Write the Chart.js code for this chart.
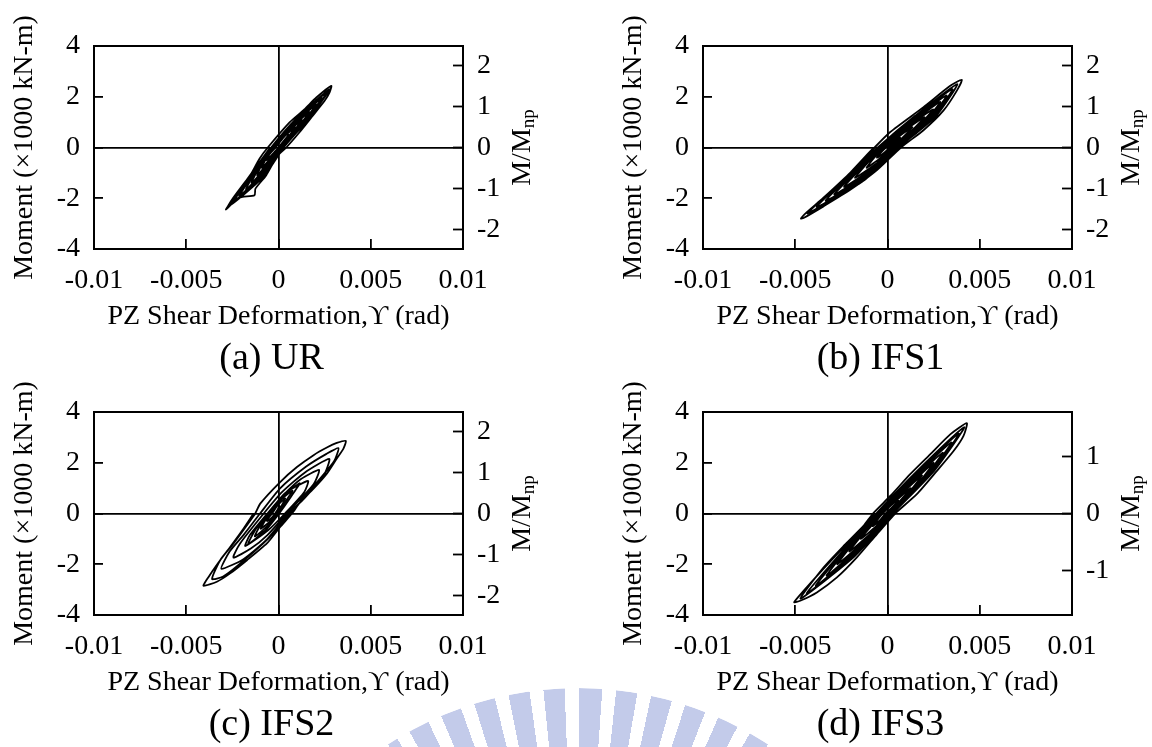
<!DOCTYPE html>
<html>
<head>
<meta charset="utf-8">
<script src="https://cdn.jsdelivr.net/npm/chart.js@4.4.1/dist/chart.umd.min.js"></script>
<style>
  html, body { margin: 0; padding: 0; background: #fff; }
  body { width: 1152px; height: 747px; position: relative; overflow: hidden;
         font-family: 'Liberation Serif', 'Times New Roman', serif; }
  .panel { position: absolute; width: 543px; height: 381px; }
  .panel canvas { position: absolute; left: 0; top: 0; }
  .cap { position: absolute; left: 0; width: 543px; top: 337px; text-align: center;
         font-size: 38px; line-height: 38px; color: #000; }
  /* faint striped logo watermark at the bottom */
  .mark { position: absolute; left: 229px; top: 688px; width: 698px; height: 698px; border-radius: 50%;
          background:
            conic-gradient(from 33deg, #fff 0deg 294deg, transparent 294deg 360deg),
            repeating-conic-gradient(from 0.5deg, #c3cbea 0deg 3.5deg, transparent 3.5deg 5.8deg);
          -webkit-mask-image: radial-gradient(circle at 50% 50%, transparent 0 274px, #000 275px);
          mask-image: radial-gradient(circle at 50% 50%, transparent 0 274px, #000 275px); }
</style>
</head>
<body>
<div class="mark"></div>
<div class="panel" style="left:0;top:0"><canvas id="cUR" width="543" height="381"></canvas><div class="cap">(a) UR</div></div>
<div class="panel" style="left:609px;top:0"><canvas id="cIFS1" width="543" height="381"></canvas><div class="cap">(b) IFS1</div></div>
<div class="panel" style="left:0;top:366px"><canvas id="cIFS2" width="543" height="381"></canvas><div class="cap">(c) IFS2</div></div>
<div class="panel" style="left:609px;top:366px"><canvas id="cIFS3" width="543" height="381"></canvas><div class="cap">(d) IFS3</div></div>
<script>
// axis ticks
const gammaTicks = [-0.01, -0.005, 0, 0.005, 0.01];
const momentTicks = [-4, -2, 0, 2, 4];
const ratioTicksABC = [-2, -1, 0, 1, 2];
const ratioTicksD = [-1, 0, 1];

// Mnp (x1000 kN-m) used for the right-hand M/Mnp axis
const mnpABC = 1.61;
const mnpD = 2.25;

// shear deformation in 1e-3 rad, moment in 1000 kN-m, traced cycle by cycle
const urGamma = [0,
  0.55, 0.30, 0.0, -0.31, -0.66, -0.47, -0.16, 0.28,
  0.9, 0.52, 0.04, -0.41, -0.9, -0.65, -0.2, 0.46,
  1.26, 0.74, 0.08, -0.51, -1.15, -0.83, -0.24, 0.59,
  1.68, 0.95, 0.12, -0.59, -1.46, -0.99, -0.28, 0.73,
  2.05, 1.18, 0.17, -0.64, -1.76, -1.14, -0.33, 0.82,
  2.35, 1.35, 0.2, -0.7, -2.12, -1.26, -0.36, 0.88,
  2.6, 1.52, 0.24, -0.75, -2.41, -1.39, -0.4, 0.98,
  2.77, 1.66, 0.28, -0.8, -2.68,
  -1.58, -1.03, -0.58, 0.6, 1.4, 2.05, 2.86,
  2.77, 2.5, 1.8, 1.14, 0.42, -0.05, -0.67, -1.25, -1.3, -1.95, -2.3, -2.85,
  -2.48, -1.7, -1.0, -0.45];
const urMoment = [0,
  0.5, 0.25, 0, -0.25, -0.5, -0.25, 0, 0.4,
  0.8, 0.4, 0, -0.4, -0.8, -0.4, 0, 0.55,
  1.1, 0.55, 0, -0.55, -1.1, -0.55, 0, 0.7,
  1.4, 0.7, 0, -0.7, -1.4, -0.7, 0, 0.85,
  1.7, 0.85, 0, -0.825, -1.65, -0.825, 0, 0.975,
  1.95, 0.975, 0, -0.95, -1.9, -0.95, 0, 1.075,
  2.15, 1.075, 0, -1.05, -2.1, -1.05, 0, 1.15,
  2.3, 1.15, 0, -1.15, -2.3,
  -1.16, -0.44, 0, 0.99, 1.5, 1.97, 2.43,
  2.17, 1.84, 1.2, 0.6, 0, -0.32, -1.1, -1.62, -1.88, -1.95, -2.05, -2.45,
  -2.01, -1.25, -0.55, 0];

const ifs1Gamma = [0,
  0.68, 0.43, 0.115, -0.16, -0.57, -0.36, -0.085, 0.55,
  1.35, 0.83, 0.195, -0.36, -1.13, -0.72, -0.165, 0.79,
  2.0, 1.23, 0.275, -0.55, -1.76, -1.07, -0.245, 0.965,
  2.47, 1.555, 0.345, -0.725, -2.35, -1.385, -0.315, 1.145,
  2.86, 1.875, 0.415, -0.87, -2.88, -1.67, -0.385, 1.28,
  3.2, 2.15, 0.485, -0.995, -3.35, -1.935, -0.455, 1.41,
  3.52, 2.42, 0.555, -1.14, -3.84, -2.22, -0.525, 1.5,
  3.78, 2.64, 0.615, -1.285, -4.33,
  -3.47, -2.02, -0.7, 0.15, 1.95, 3.4, 4.03,
  3.76, 3.04, 1.95, 0.73, -0.57, -2.02, -3.47, -4.55, -4.69,
  -4.37, -3.5, -2.1, -0.75];
const ifs1Moment = [0,
  0.4, 0.2, 0, -0.2, -0.4, -0.2, 0, 0.4,
  0.8, 0.4, 0, -0.4, -0.8, -0.4, 0, 0.6,
  1.2, 0.6, 0, -0.6, -1.2, -0.6, 0, 0.75,
  1.5, 0.75, 0, -0.775, -1.55, -0.775, 0, 0.9,
  1.8, 0.9, 0, -0.925, -1.85, -0.925, 0, 1.025,
  2.05, 1.025, 0, -1.05, -2.1, -1.05, 0, 1.15,
  2.3, 1.15, 0, -1.175, -2.35, -1.175, 0, 1.25,
  2.5, 1.25, 0, -1.3, -2.6,
  -1.99, -1.02, 0, 0.61, 1.59, 2.43, 2.67,
  2.24, 1.46, 0.68, 0, -0.89, -1.67, -2.32, -2.78, -2.8,
  -2.55, -2.0, -1.05, 0];

const ifs2Gamma = [0,
  0.05, -0.05, -0.185, -0.35, -0.62, -0.51, -0.345, -0.07,
  0.36, 0.16, -0.115, -0.44, -0.96, -0.74, -0.415, -0.01,
  0.76, 0.36, -0.045, -0.535, -1.28, -0.975, -0.485, 0.1,
  1.15, 0.62, 0.035, -0.62, -1.64, -1.22, -0.565, 0.35,
  1.6, 1.4, 0.35, -0.55, -1.8, -1.55, -0.6, 0.3, 1.2,
  2.2, 1.9, 0.45, -0.6, -1.5, -2.45, -2.1, -0.8, 0.2, 1.4,
  2.75, 2.45, 1.4, 0.55, -0.6, -1.9, -3.1, -2.65, -1.9, -1.0, 0.1, 1.5, 2.6,
  3.25, 3.0, 1.7, 0.65, -0.5, -2.2, -3.0, -3.6,
  -3.16, -2.44, -1.71, -1.26, -0.99, 0.09, 1.0, 1.9, 2.62, 3.16, 3.65,
  3.52, 3.16, 2.62, 1.9, 1.18, 0.73, 0.09, -0.63, -1.71, -2.62, -3.34, -4.07,
  -3.79, -3.3, -2.6, -1.9, -1.35];
const ifs2Moment = [0,
  0.3, 0.15, 0, -0.15, -0.3, -0.15, 0, 0.3,
  0.6, 0.3, 0, -0.3, -0.6, -0.3, 0, 0.45,
  0.9, 0.45, 0, -0.45, -0.9, -0.45, 0, 0.6,
  1.2, 0.6, 0, -0.6, -1.2, -0.6, 0, 0.8,
  1.28, 0.85, 0, -0.65, -1.28, -0.85, 0, 0.75, 1.35,
  1.72, 1.15, 0, -0.85, -1.38, -1.74, -1.2, 0, 0.85, 1.6,
  2.15, 1.5, 0.6, 0, -1.0, -1.8, -2.18, -1.5, -0.85, 0, 1.0, 1.85, 2.35,
  2.58, 2.05, 0.9, 0, -0.95, -2.05, -2.48, -2.58,
  -1.84, -1.18, -0.46, 0, 0.39, 1.24, 1.83, 2.3, 2.6, 2.78, 2.86,
  2.56, 2.17, 1.57, 0.98, 0.46, 0, -0.53, -1.18, -1.84, -2.36, -2.69, -2.85,
  -2.5, -1.98, -1.3, -0.6, 0];

const ifs3Gamma = [0,
  0.59, 0.26, -0.105, -0.39, -0.8, -0.55, -0.265, 0.46,
  1.26, 0.68, -0.045, -0.61, -1.45, -0.89, -0.325, 0.735,
  1.87, 1.075, 0.015, -0.875, -2.07, -1.275, -0.385, 1.01,
  2.5, 1.47, 0.075, -1.14, -2.72, -1.66, -0.445, 1.19,
  3.0, 1.774, 0.135, -1.36, -3.3, -2.0, -0.505, 1.38,
  3.47, 2.08, 0.195, -1.55, -3.885, -2.31, -0.565, 1.535,
  3.87, 2.345, 0.245, -1.69, -4.375, -2.55, -0.615, 1.64,
  4.16, 2.55, 0.295, -1.77, -4.71,
  -3.47, -2.38, -1.3, -0.79, 0.15, 1.23, 2.31, 3.4, 4.3,
  4.12, 3.58, 2.68, 1.59, 0.42, -0.57, -1.66, -2.74, -3.83, -4.73, -5.06,
  -4.55, -3.5, -2.4, -1.3, -0.75];
const ifs3Moment = [0,
  0.5, 0.25, 0, -0.25, -0.5, -0.25, 0, 0.5,
  1.0, 0.5, 0, -0.5, -1.0, -0.5, 0, 0.75,
  1.5, 0.75, 0, -0.75, -1.5, -0.75, 0, 1.0,
  2.0, 1.0, 0, -1.0, -2.0, -1.0, 0, 1.2,
  2.4, 1.2, 0, -1.225, -2.45, -1.225, 0, 1.4,
  2.8, 1.4, 0, -1.425, -2.85, -1.425, 0, 1.575,
  3.15, 1.575, 0, -1.575, -3.15, -1.575, 0, 1.7,
  3.4, 1.7, 0, -1.675, -3.35,
  -2.13, -1.28, -0.49, 0, 0.69, 1.55, 2.33, 3.12, 3.56,
  3.06, 2.46, 1.68, 0.76, 0, -0.81, -1.73, -2.52, -3.11, -3.44, -3.5,
  -3.05, -2.2, -1.35, -0.55, 0];

const FONT = "'Liberation Serif', 'Times New Roman', serif";
const tickFont = { family: FONT, size: 28 };
const titleFont = { family: FONT, size: 28 };

// rotated "M/Mnp" title for the right axis (subscript np)
const ratioTitle = {
  id: 'ratioTitle',
  afterDraw(chart) {
    const s = chart.scales.y2;
    const area = chart.chartArea;
    const ctx = chart.ctx;
    ctx.save();
    ctx.translate(s.left + 60, (area.top + area.bottom) / 2);
    ctx.rotate(-Math.PI / 2);
    ctx.fillStyle = '#000';
    ctx.textBaseline = 'middle';
    ctx.textAlign = 'left';
    ctx.font = '28px ' + FONT;
    const w1 = ctx.measureText('M/M').width;
    ctx.font = '19px ' + FONT;
    const w2 = ctx.measureText('np').width;
    const x0 = -(w1 + w2) / 2;
    ctx.font = '28px ' + FONT;
    ctx.fillText('M/M', x0, 0);
    ctx.font = '19px ' + FONT;
    ctx.fillText('np', x0 + w1, 6);
    ctx.restore();
  }
};

function makeChart(id, gamma, moment, mnp, ratioTicks) {
  const points = gamma.map((g, i) => ({ x: g / 1000, y: moment[i] }));
  return new Chart(document.getElementById(id), {
    type: 'scatter',
    data: {
      datasets: [{
        data: points,
        showLine: true,
        borderColor: '#000',
        borderWidth: 1.8,
        borderJoinStyle: 'round',
        pointRadius: 0,
        tension: 0.2,
        fill: false
      }]
    },
    options: {
      responsive: false,
      animation: false,
      events: [],
      layout: { padding: { top: 46, left: 0, right: 0, bottom: 0 } },
      plugins: { legend: { display: false }, tooltip: { enabled: false } },
      scales: {
        x: {
          type: 'linear',
          min: -0.01,
          max: 0.01,
          afterBuildTicks: s => { s.ticks = gammaTicks.map(v => ({ value: v })); },
          afterFit: s => { s.height = 132; },
          ticks: { font: tickFont, color: '#000', padding: 25, maxRotation: 0, autoSkip: false,
                   callback: v => String(v) },
          grid: {
            color: c => (c.tick && c.tick.value === 0 ? '#000' : 'rgba(0,0,0,0)'),
            lineWidth: 1.8,
            tickLength: -10,
            tickColor: '#000',
            tickWidth: 1.8
          },
          border: { color: '#000', width: 2 },
          title: { display: true, text: 'PZ Shear Deformation,ϒ (rad)', font: titleFont, color: '#000',
                   padding: { top: 0, bottom: 48 } }
        },
        y: {
          position: 'left',
          min: -4,
          max: 4,
          afterBuildTicks: s => { s.ticks = momentTicks.map(v => ({ value: v })); },
          afterFit: s => { s.width = 94; },
          ticks: { font: tickFont, color: '#000', padding: 23, callback: v => String(v) },
          grid: {
            color: c => (c.tick && (c.tick.value === 0 || c.tick.value === 4) ? '#000' : 'rgba(0,0,0,0)'),
            lineWidth: c => (c.tick && c.tick.value === 4 ? 2 : 1.8),
            tickLength: -9,
            tickColor: '#000',
            tickWidth: 1.8
          },
          border: { color: '#000', width: 2 },
          title: { display: true, text: 'Moment (×1000 kN-m)', font: titleFont, color: '#000',
                   padding: { top: 8, bottom: 0 } }
        },
        y2: {
          type: 'linear',
          position: 'right',
          min: -4 / mnp,
          max: 4 / mnp,
          afterBuildTicks: s => { s.ticks = ratioTicks.map(v => ({ value: v })); },
          afterFit: s => { s.width = 80; },
          ticks: { font: tickFont, color: '#000', padding: 24, callback: v => String(v) },
          grid: { drawOnChartArea: false, tickLength: -10, tickColor: '#000', tickWidth: 1.8 },
          border: { color: '#000', width: 2 }
        }
      }
    },
    plugins: [ratioTitle]
  });
}

makeChart('cUR', urGamma, urMoment, mnpABC, ratioTicksABC);
makeChart('cIFS1', ifs1Gamma, ifs1Moment, mnpABC, ratioTicksABC);
makeChart('cIFS2', ifs2Gamma, ifs2Moment, mnpABC, ratioTicksABC);
makeChart('cIFS3', ifs3Gamma, ifs3Moment, mnpD, ratioTicksD);
</script>
</body>
</html>
